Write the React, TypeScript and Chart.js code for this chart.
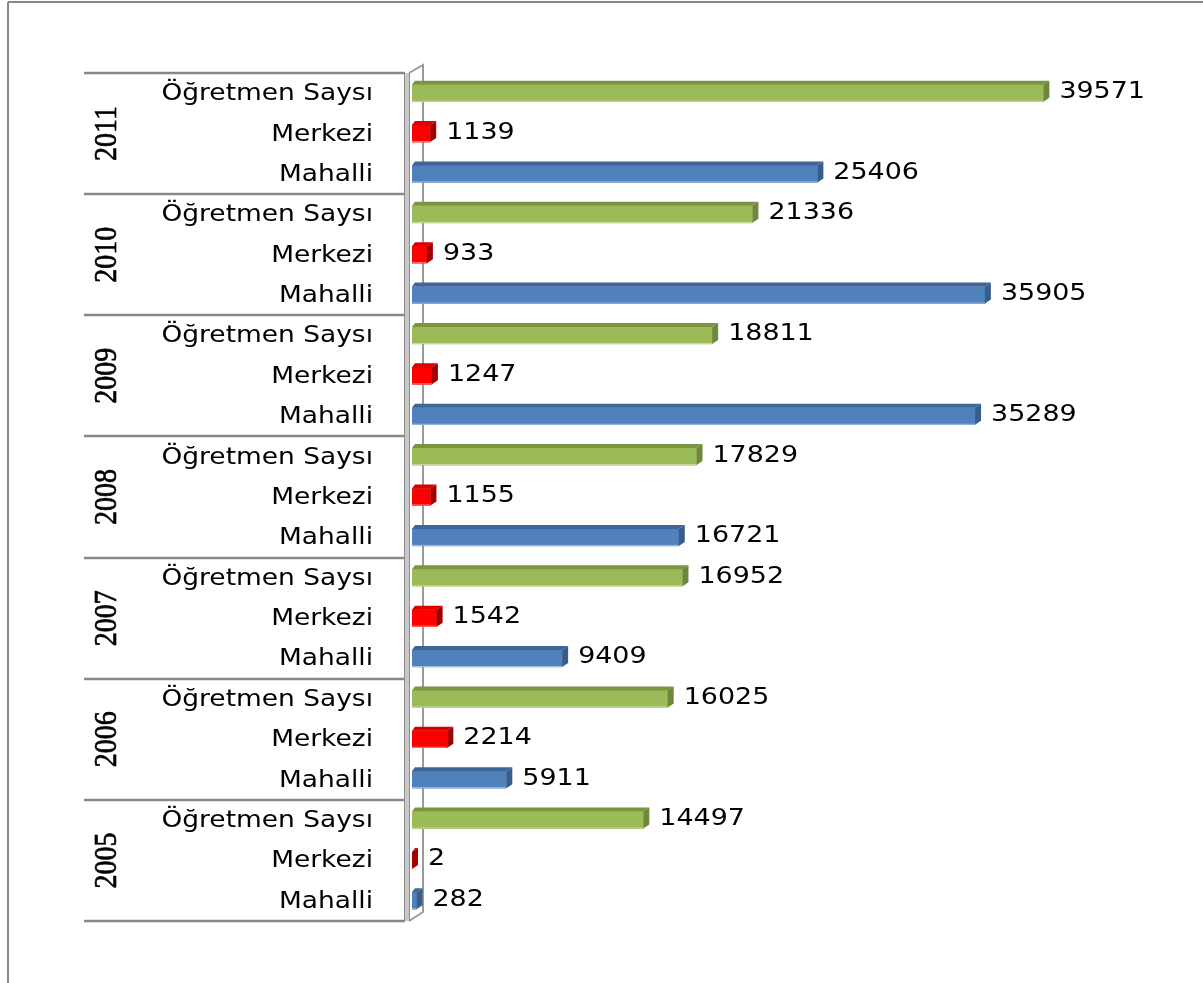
import React, { useEffect, useRef } from 'react';
import { Chart, registerables } from 'chart.js';

Chart.register(...registerables);

// ---- data (top row of chart first) ----
const years = ['2011', '2010', '2009', '2008', '2007', '2006', '2005'];
const types = ['Öğretmen Saysı', 'Merkezi', 'Mahalli'];
const ogretmenSayisi = [39571, 21336, 18811, 17829, 16952, 16025, 14497];
const merkezi = [1139, 933, 1247, 1155, 1542, 2214, 2];
const mahalli = [25406, 35905, 35289, 16721, 9409, 5911, 282];
const xMax = 45000;

const seriesValues = [ogretmenSayisi, merkezi, mahalli];

const palette = [
  { front: '#9BBB59', top: '#7A9540', side: '#6E873A', edge: '#C6D9A0' },
  { front: '#FF0000', top: '#D80000', side: '#A00000', edge: '#FF8080' },
  { front: '#4F81BD', top: '#3E6597', side: '#385D8A', edge: '#A7C0DE' },
];

// rows: each year contributes three rows in the order of `types`
const rowLabels: string[] = [];
const rowYears: string[] = [];
years.forEach((yr) => {
  types.forEach((t) => {
    rowLabels.push(t);
    rowYears.push(yr);
  });
});

const datasets = types.map((t, ti) => ({
  label: t,
  data: rowLabels.map((lab, ri) => (lab === t ? seriesValues[ti][years.indexOf(rowYears[ri])] : null)),
  backgroundColor: palette[ti].front,
  borderWidth: 0,
  barThickness: 17,
  grouped: false,
}));

const DX = 6;
const DY = 4;

function drawScaledText(
  ctx: CanvasRenderingContext2D,
  text: string,
  x: number,
  y: number,
  align: CanvasTextAlign,
  sx: number,
) {
  ctx.save();
  ctx.translate(x, y);
  ctx.scale(sx, 1);
  ctx.textAlign = align;
  ctx.textBaseline = 'middle';
  ctx.fillText(text, 0, 0);
  ctx.restore();
}

const excelPlugin = {
  id: 'excel3d',
  beforeDraw(chart: any) {
    const ctx: CanvasRenderingContext2D = chart.ctx;
    const area = chart.chartArea;
    const yScale = chart.scales.y;
    ctx.save();
    ctx.fillStyle = '#ffffff';
    ctx.fillRect(0, 0, chart.width, chart.height);

    // outer frame
    ctx.strokeStyle = '#878787';
    ctx.lineWidth = 2;
    ctx.beginPath();
    ctx.moveTo(8, 2);
    ctx.lineTo(chart.width, 2);
    ctx.moveTo(8, 2);
    ctx.lineTo(8, chart.height);
    ctx.stroke();

    const top = area.top;
    const bottom = area.bottom;
    const wallX = area.left - 4; // front edge of wall
    const backX = wallX + 15;

    // back wall line
    ctx.strokeStyle = '#9a9a9a';
    ctx.lineWidth = 2;
    ctx.beginPath();
    ctx.moveTo(wallX + 1, top);
    ctx.lineTo(backX, top - 8);
    ctx.lineTo(backX, bottom - 9);
    ctx.lineTo(wallX + 1, bottom);
    ctx.stroke();

    // front wall band
    ctx.fillStyle = '#c8c8c8';
    ctx.fillRect(wallX - 3, top, 4, bottom - top);
    ctx.strokeStyle = '#8c8c8c';
    ctx.lineWidth = 1;
    ctx.beginPath();
    ctx.moveTo(wallX - 3.5, top);
    ctx.lineTo(wallX - 3.5, bottom);
    ctx.moveTo(wallX + 1.5, top);
    ctx.lineTo(wallX + 1.5, bottom);
    ctx.stroke();

    // group separators
    const n = rowLabels.length;
    const rowH = (bottom - top) / n;
    ctx.strokeStyle = '#878787';
    ctx.lineWidth = 2.5;
    ctx.beginPath();
    for (let g = 0; g <= years.length; g++) {
      const yy = Math.round(top + g * types.length * rowH);
      ctx.moveTo(84, yy);
      ctx.lineTo(wallX - 3, yy);
    }
    ctx.stroke();

    // category labels
    ctx.fillStyle = '#000000';
    ctx.font = '23px "DejaVu Sans"';
    for (let i = 0; i < n; i++) {
      const yy = yScale.getPixelForValue(i);
      drawScaledText(ctx, rowLabels[i], 373, yy + 1, 'right', 1.15);
    }

    // year labels (rotated)
    ctx.font = '28px "Liberation Serif"';
    ctx.strokeStyle = '#000000';
    ctx.lineWidth = 0.6;
    years.forEach((yr, g) => {
      const first = yScale.getPixelForValue(g * types.length);
      const last = yScale.getPixelForValue(g * types.length + types.length - 1);
      const cy = (first + last) / 2;
      ctx.save();
      ctx.translate(108, cy);
      ctx.rotate(-Math.PI / 2);
      ctx.scale(1, 1.12);
      ctx.textAlign = 'center';
      ctx.textBaseline = 'middle';
      ctx.fillText(yr, 0, 0);
      ctx.strokeText(yr, 0, 0);
      ctx.restore();
    });
    ctx.restore();
  },
  afterDatasetsDraw(chart: any) {
    const ctx: CanvasRenderingContext2D = chart.ctx;
    ctx.save();
    chart.data.datasets.forEach((ds: any, di: number) => {
      const meta = chart.getDatasetMeta(di);
      const col = palette[di];
      meta.data.forEach((el: any, i: number) => {
        const v = ds.data[i];
        if (v === null || v === undefined) return;
        const p = el.getProps(['x', 'y', 'base', 'height'], true);
        const left = Math.min(p.base, p.x);
        const right = Math.max(p.base, p.x);
        const t = p.y - p.height / 2;
        const b = p.y + p.height / 2;
        // bottom highlight
        ctx.fillStyle = col.edge;
        ctx.fillRect(left, b - 1, right - left, 1);
        // top face
        ctx.fillStyle = col.top;
        ctx.beginPath();
        ctx.moveTo(left, t);
        ctx.lineTo(left + DX * 0.5, t - DY);
        ctx.lineTo(right + DX, t - DY);
        ctx.lineTo(right, t);
        ctx.closePath();
        ctx.fill();
        // side face
        ctx.fillStyle = col.side;
        ctx.beginPath();
        ctx.moveTo(right, t);
        ctx.lineTo(right + DX, t - DY);
        ctx.lineTo(right + DX, b - DY);
        ctx.lineTo(right, b);
        ctx.closePath();
        ctx.fill();
        // value label
        ctx.fillStyle = '#000000';
        ctx.font = '23px "DejaVu Sans"';
        drawScaledText(ctx, String(v), right + 16, p.y - 1, 'left', 1.17);
      });
    });
    ctx.restore();
  },
};

export default function App() {
  const canvasRef = useRef<HTMLCanvasElement | null>(null);

  useEffect(() => {
    if (!canvasRef.current) return;
    const chart = new Chart(canvasRef.current, {
      type: 'bar',
      data: { labels: rowLabels, datasets: datasets as any },
      options: {
        indexAxis: 'y',
        animation: false,
        responsive: false,
        devicePixelRatio: 1,
        layout: { padding: { left: 412, top: 73, right: 1203 - 412 - Math.round(xMax * 0.01596), bottom: 983 - 921 } },
        plugins: {
          legend: { display: false },
          tooltip: { enabled: false },
        },
        scales: {
          x: { display: false, min: 0, max: xMax },
          y: { display: false, offset: true },
        },
      },
      plugins: [excelPlugin],
    });
    return () => chart.destroy();
  }, []);

  return (
    <div style={{ position: 'fixed', left: 0, top: 0, width: 1203, height: 983, background: '#fff' }}>
      <canvas ref={canvasRef} width={1203} height={983} style={{ display: 'block' }} />
    </div>
  );
}
